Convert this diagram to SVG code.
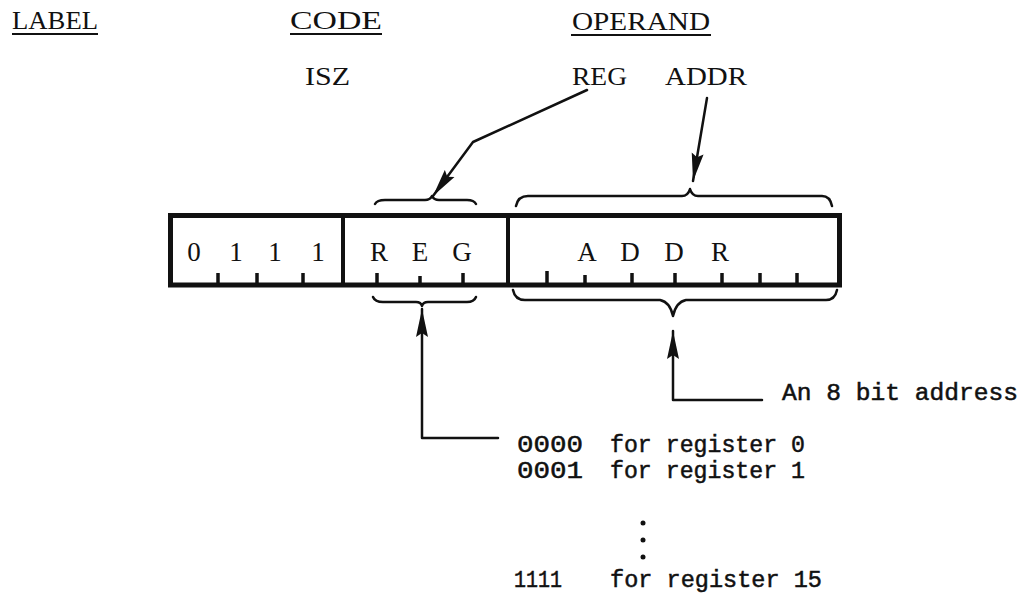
<svg xmlns="http://www.w3.org/2000/svg" width="1029" height="599" viewBox="0 0 1029 599">
<style>
.hd{font-family:"Liberation Serif",serif;font-size:25px;fill:#111}
.bx{font-family:"Liberation Serif",serif;font-size:27px;fill:#111;text-anchor:middle}
.mn{font-family:"Liberation Mono",monospace;font-size:23px;fill:#111;stroke:#111;stroke-width:0.5}
.ln{fill:none;stroke:#111;stroke-width:2.5;stroke-linecap:round;stroke-linejoin:round}
.ul{stroke:#111;stroke-width:1.8}
.br{fill:none;stroke:#111;stroke-width:2.5;stroke-linecap:round;stroke-linejoin:round}
.tk{stroke:#111;stroke-width:3.5}
</style>
<defs>
<marker id="ah" markerUnits="userSpaceOnUse" markerWidth="30" markerHeight="14" refX="28" refY="6" orient="auto" viewBox="0 0 30 12">
<path d="M0,0 L28,6 L0,12 L4,6 Z" fill="#111"/>
</marker>
</defs>
<rect width="1029" height="599" fill="#fff"/>
<g id="headers">
<text class="hd" x="12" y="29" textLength="86" lengthAdjust="spacingAndGlyphs">LABEL</text>
<line class="ul" x1="12" y1="34" x2="98" y2="34"/>
<text class="hd" x="290" y="29" textLength="92" lengthAdjust="spacingAndGlyphs">CODE</text>
<line class="ul" x1="290" y1="34" x2="382" y2="34"/>
<text class="hd" x="572" y="30" textLength="138" lengthAdjust="spacingAndGlyphs">OPERAND</text>
<line class="ul" x1="571" y1="35" x2="711" y2="35"/>
<text class="hd" x="305" y="85" textLength="45" lengthAdjust="spacingAndGlyphs">ISZ</text>
<text class="hd" x="572" y="85" textLength="55" lengthAdjust="spacingAndGlyphs">REG</text>
<text class="hd" x="665" y="85" textLength="82" lengthAdjust="spacingAndGlyphs">ADDR</text>
</g>
<g id="word">
<rect x="170.5" y="215.5" width="669" height="69.5" fill="none" stroke="#111" stroke-width="5"/>
<line x1="343" y1="215" x2="343" y2="285" stroke="#111" stroke-width="4"/>
<line x1="508" y1="215" x2="508" y2="285" stroke="#111" stroke-width="4"/>
<g class="tk">
<line x1="218" y1="273" x2="218" y2="285"/>
<line x1="257" y1="273" x2="257" y2="285"/>
<line x1="303" y1="273" x2="303" y2="285"/>
<line x1="377" y1="273" x2="377" y2="285"/>
<line x1="420" y1="276" x2="420" y2="285"/>
<line x1="463" y1="273" x2="463" y2="285"/>
<line x1="547" y1="271" x2="547" y2="285"/>
<line x1="585" y1="275" x2="585" y2="285"/>
<line x1="632" y1="273" x2="632" y2="285"/>
<line x1="675" y1="273" x2="675" y2="285"/>
<line x1="722" y1="273" x2="722" y2="285"/>
<line x1="760" y1="273" x2="760" y2="285"/>
<line x1="797" y1="273" x2="797" y2="285"/>
</g>
<text class="bx" x="194" y="261">0</text>
<text class="bx" x="236" y="261">1</text>
<text class="bx" x="275" y="261">1</text>
<text class="bx" x="318" y="261">1</text>
<text class="bx" x="379" y="261">R</text>
<text class="bx" x="420" y="261">E</text>
<text class="bx" x="462" y="261">G</text>
<text class="bx" x="587" y="261">A</text>
<text class="bx" x="630" y="261">D</text>
<text class="bx" x="674" y="261">D</text>
<text class="bx" x="720" y="261">R</text>
</g>
<g id="braces">
<path class="br" d="M375,204 Q377,200 385,200 L425,200 Q430,200 432,196 Q434,200 439,200 L467,200 Q474,200 476,204"/>
<path class="br" d="M516,206 Q518,196 528,196 L682,196 Q688,196 690,189 Q692,196 698,196 L822,196 Q830,196 832,206"/>
<path class="br" d="M373,297 Q375,302 383,302 L416,302 Q421,302 422,306 Q423,302 428,302 L467,302 Q474,302 476,297"/>
<path class="br" d="M513,290 Q515,300 525,300 L660,300 Q670,302 673,316 Q676,302 686,300 L826,300 Q835,300 837,290"/>
</g>
<g id="connectors">
<polyline class="ln" points="587,90 473,142 433,196" marker-end="url(#ah)"/>
<polyline class="ln" points="707,98 693,181" marker-end="url(#ah)"/>
<polyline class="ln" points="498,438 422,438 422,309" marker-end="url(#ah)"/>
<polyline class="ln" points="762,400 673,400 673,331" marker-end="url(#ah)"/>
</g>
<g id="notes">
<text class="mn" x="782" y="400" textLength="236" lengthAdjust="spacingAndGlyphs">An 8 bit address</text>
<text class="mn" x="517" y="452" textLength="66" lengthAdjust="spacingAndGlyphs">0000</text>
<text class="mn" x="610" y="452" textLength="195" lengthAdjust="spacingAndGlyphs">for register 0</text>
<text class="mn" x="517" y="478" textLength="66" lengthAdjust="spacingAndGlyphs">0001</text>
<text class="mn" x="610" y="478" textLength="195" lengthAdjust="spacingAndGlyphs">for register 1</text>
<circle cx="643" cy="523" r="2.5" fill="#111"/>
<circle cx="643" cy="540" r="2.5" fill="#111"/>
<circle cx="643" cy="557" r="2.5" fill="#111"/>
<text class="mn" x="514" y="587" textLength="48" lengthAdjust="spacingAndGlyphs">1111</text>
<text class="mn" x="610" y="587" textLength="212" lengthAdjust="spacingAndGlyphs">for register 15</text>
</g>
</svg>
